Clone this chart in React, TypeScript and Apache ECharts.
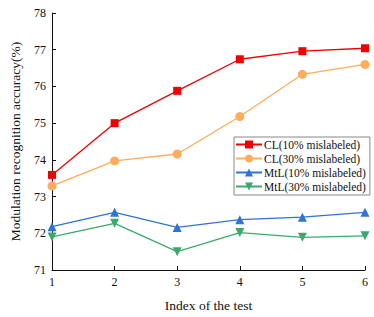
import React, { useEffect, useRef } from "react";
import * as echarts from "echarts";

const tests = [1, 2, 3, 4, 5, 6];
const cl10 = [73.59, 75.0, 75.88, 76.74, 76.96, 77.04];
const cl30 = [73.29, 73.97, 74.16, 75.18, 76.33, 76.6];
const mtl10 = [72.18, 72.57, 72.16, 72.37, 72.44, 72.57];
const mtl30 = [71.9, 72.27, 71.5, 72.02, 71.89, 71.93];
const seriesNames = [
  "CL(10% mislabeled)",
  "CL(30% mislabeled)",
  "MtL(10% mislabeled)",
  "MtL(30% mislabeled)",
];

const FONT = "Liberation Serif";

export default function App() {
  const ref = useRef<HTMLDivElement>(null);
  useEffect(() => {
    const chart = echarts.init(ref.current!, null, { renderer: "svg" });
    const mk = (name: string, vals: number[], color: string, symbol: string, symbolRotate = 0, size = 8) => ({
      name,
      type: "line",
      data: tests.map((t, i) => [t, vals[i]]),
      symbol,
      symbolSize: size,
      symbolRotate,
      showAllSymbol: true,
      lineStyle: { color, width: 1.3 },
      itemStyle: { color, borderWidth: 0 },
    });
    chart.setOption({
      animation: false,
      textStyle: { fontFamily: FONT },
      grid: { left: 44, right: 9, top: 13, bottom: 45 },
      legend: {
        left: 234,
        top: 137,
        orient: "vertical",
        itemGap: 1,
        itemWidth: 26,
        itemHeight: 10,
        padding: [1, 4, 2, 1],
        borderColor: "#888",
        borderWidth: 1,
        borderRadius: 0,
        textStyle: { fontFamily: FONT, fontSize: 11.5, lineHeight: 13, color: "#111", padding: [0, 0, 0, -3] },
        data: seriesNames,
      },
      xAxis: {
        type: "value",
        min: 1,
        max: 6,
        interval: 1,
        name: "Index of the test",
        nameLocation: "middle",
        nameGap: 28,
        nameTextStyle: { fontFamily: FONT, fontSize: 13.5, color: "#111" },
        axisLine: { lineStyle: { color: "#111", width: 1 } },
        axisTick: { inside: true, length: 4, lineStyle: { color: "#111" } },
        axisLabel: { fontFamily: FONT, fontSize: 12, color: "#111", margin: 6 },
        splitLine: { show: false },
      },
      yAxis: {
        type: "value",
        min: 71,
        max: 78,
        interval: 1,
        name: "Modulation recognition accuracy(%)",
        nameLocation: "middle",
        nameGap: 30,
        nameTextStyle: { fontFamily: FONT, fontSize: 13.5, color: "#111" },
        axisLine: { show: true, lineStyle: { color: "#111", width: 1 } },
        axisTick: { show: true, inside: true, length: 4, lineStyle: { color: "#111" } },
        axisLabel: { fontFamily: FONT, fontSize: 12, color: "#111", margin: 6 },
        splitLine: { show: false },
      },
      series: [
        mk(seriesNames[0], cl10, "#f20000", "rect", 0, 8),
        mk(seriesNames[1], cl30, "#ffad5c", "circle", 0, 9),
        mk(seriesNames[2], mtl10, "#2f72d8", "triangle", 0, 9),
        mk(seriesNames[3], mtl30, "#3aaa6c", "triangle", 180, 9),
      ],
    });
    return () => chart.dispose();
  }, []);
  return (
    <div
      ref={ref}
      style={{ position: "absolute", left: 0, top: 0, width: 374, height: 317, background: "#fff" }}
    />
  );
}
